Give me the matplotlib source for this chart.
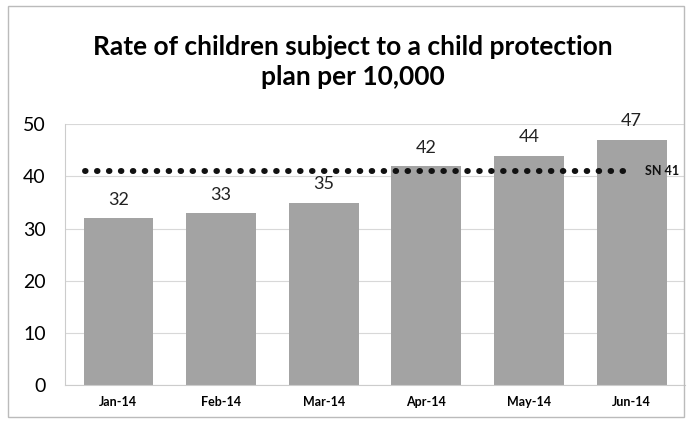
import matplotlib.pyplot as plt

months = ['Jan-14', 'Feb-14', 'Mar-14', 'Apr-14', 'May-14', 'Jun-14']
rates = [32, 33, 35, 42, 44, 47]
sn_value = 41
sn_label = 'SN 41'

plt.rcParams['font.family'] = ['Lato', 'DejaVu Sans']

fig = plt.figure(figsize=(6.92, 4.21), dpi=100)
ax = fig.add_axes([0.094, 0.085, 0.896, 0.62])

x = range(len(months))
ax.bar(x, rates, width=0.68, color='#a3a3a3', zorder=2)
for i, v in zip(x, rates):
    ax.text(i, v + 2.0, str(v), ha='center', va='bottom', fontsize=13, color='#222222')

# dotted SN line
ax.hlines(sn_value, -0.33, 5.0, colors='#111111', linestyles=(0, (0.1, 1.9)),
          linewidth=4.3, capstyle='round', zorder=3)
ax.text(5.13, sn_value, sn_label, ha='left', va='center', fontsize=9,
        fontweight='bold', color='#111111')

ax.set_xlim(-0.52, 5.52)
ax.set_ylim(0, 50)
ax.set_yticks([0, 10, 20, 30, 40, 50])
ax.yaxis.grid(True, color='#d8d8d8', linewidth=0.8, zorder=0)
ax.set_axisbelow(True)
ax.set_xticks(list(x))
ax.set_xticklabels(months, fontsize=9, fontweight='bold')
ax.tick_params(axis='y', labelsize=14, length=0, pad=14)
ax.tick_params(axis='x', length=0, pad=8)
for s in ['top', 'right']:
    ax.spines[s].set_visible(False)
ax.spines['left'].set_color('#cccccc')
ax.spines['bottom'].set_color('#cccccc')

fig.text(0.51, 0.852, 'Rate of children subject to a child protection\nplan per 10,000',
         ha='center', va='center', fontsize=19, fontweight='bold', linespacing=1.3)

# outer chart border
fig.patches.append(plt.Rectangle((0.012, 0.01), 0.976, 0.975, transform=fig.transFigure,
                                 fill=False, edgecolor='#bbbbbb', linewidth=1))

fig.savefig('out.png', dpi=100)
